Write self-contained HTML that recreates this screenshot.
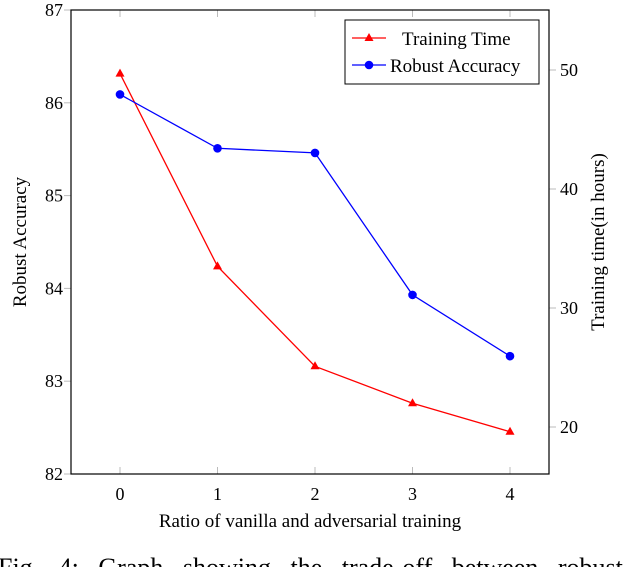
<!DOCTYPE html>
<html><head><meta charset="utf-8"><style>
body{margin:0;background:#fff;overflow:hidden;}
svg text{font-family:"Liberation Serif",serif;fill:#000;}
</style></head><body>
<svg width="640" height="567" id="c">
</svg>
<script>
const categories=[0,1,2,3,4];
const robustAccuracy=[86.09,85.51,85.46,83.93,83.27];
const trainingTime=[49.7,33.5,25.1,22.0,19.6];
const leftTicks=[82,83,84,85,86,87];
const rightTicks=[20,30,40,50];
const L=71,R=549,T=10,B=474;
const xs=v=>120+v*97.5;
const yl=v=>B-(v-82)/5*(B-T);
const yr=v=>70+(50-v)*11.9;
const svg=document.getElementById('c');
const NS='http://www.w3.org/2000/svg';
function mk(t,a,p){const e=document.createElementNS(NS,t);for(const k in a)e.setAttribute(k,a[k]);(p||svg).appendChild(e);return e;}
categories.forEach(c=>{
 mk('line',{x1:xs(c),x2:xs(c),y1:B,y2:B-7,stroke:'#bbb'});
 mk('line',{x1:xs(c),x2:xs(c),y1:T,y2:T+7,stroke:'#bbb'});
 const t=mk('text',{x:xs(c),y:B+26,'font-size':18,'text-anchor':'middle'});t.textContent=c;
 
 
});
leftTicks.forEach(v=>{
 mk('line',{x1:L-7,x2:L,y1:yl(v),y2:yl(v),stroke:'#bbb'});
 const t=mk('text',{x:L-8,y:yl(v)+6,'font-size':18,'text-anchor':'end'});t.textContent=v;
 
 
});
rightTicks.forEach(v=>{
 mk('line',{x1:R,x2:R+7,y1:yr(v),y2:yr(v),stroke:'#bbb'});
 const t=mk('text',{x:R+11,y:yr(v)+6,'font-size':18});t.textContent=v;
 
 
});
const box=mk('rect',{x:L,y:T,width:R-L,height:B-T,fill:'none',stroke:'#000','stroke-width':1.2});


const rl=mk('polyline',{points:categories.map((c,i)=>xs(c)+','+yr(trainingTime[i])).join(' '),fill:'none',stroke:'#f00','stroke-width':1.3});


categories.forEach((c,i)=>{const x=xs(c),y=yr(trainingTime[i]);
 const m=mk('polygon',{points:`${x},${y-5} ${x-4.5},${y+3} ${x+4.5},${y+3}`,fill:'#f00'});
 
 });
const bl=mk('polyline',{points:categories.map((c,i)=>xs(c)+','+yl(robustAccuracy[i])).join(' '),fill:'none',stroke:'#00f','stroke-width':1.3});


categories.forEach((c,i)=>{
 const m=mk('circle',{cx:xs(c),cy:yl(robustAccuracy[i]),r:4.3,fill:'#00f'});
 
 });
let t=mk('text',{x:310,y:527,'font-size':19,'text-anchor':'middle'});t.textContent='Ratio of vanilla and adversarial training';

t=mk('text',{x:0,y:0,'font-size':19,'text-anchor':'middle',transform:'translate(26,242) rotate(-90)'});t.textContent='Robust Accuracy';

t=mk('text',{x:0,y:0,'font-size':19,'text-anchor':'middle',transform:'translate(604,242) rotate(-90)'});t.textContent='Training time(in hours)';

const g=mk('g',{});
mk('rect',{x:345,y:20,width:194,height:64,fill:'#fff',stroke:'#000','stroke-width':1},g);
mk('line',{x1:352,x2:386,y1:38,y2:38,stroke:'#f00','stroke-width':1.3},g);
mk('polygon',{points:'369,33 364.5,41 373.5,41',fill:'#f00'},g);
t=mk('text',{x:402,y:45,'font-size':19},g);t.textContent='Training Time';
mk('line',{x1:352,x2:386,y1:65,y2:65,stroke:'#00f','stroke-width':1.3},g);
mk('circle',{cx:369,cy:65,r:4.3,fill:'#00f'},g);
t=mk('text',{x:390,y:72,'font-size':19},g);t.textContent='Robust Accuracy';
t=mk('text',{x:-2,y:576,'font-size':26,'word-spacing':13});t.textContent='Fig. 4: Graph showing the trade-off between robust accuracy';

</script>
</body></html>
